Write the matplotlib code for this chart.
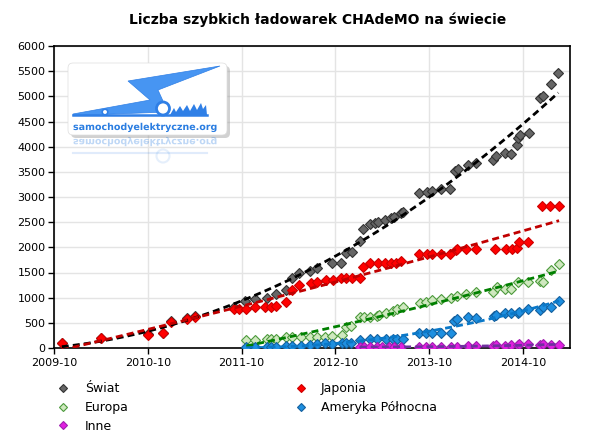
import numpy as np
import matplotlib
matplotlib.use("Agg")
import matplotlib.pyplot as plt
from matplotlib.lines import Line2D
from matplotlib.patches import FancyBboxPatch, Polygon, Circle, PathPatch
from matplotlib.textpath import TextPath
from matplotlib.font_manager import FontProperties
from matplotlib.transforms import Affine2D

# months since 2009-10
swiat_x = [1, 6, 12, 14, 15, 17, 18, 23, 24.4, 25.7, 27.2, 28.4, 29.7, 30.4, 31.4,
           32.7, 33.6, 35.6, 36.7, 37.4, 38.1, 39.1, 39.5, 40.4, 41.0, 41.4, 42.3,
           43.1, 43.5, 44.4, 44.6, 46.7, 47.7, 48.4, 49.5, 50.7, 51.3, 51.7, 52.9,
           54.0, 56.2, 56.5, 57.7, 58.5, 59.2, 59.4, 59.6, 60.7, 62.2, 62.6, 63.6, 64.5]
swiat_y = [93, 195, 280, 305, 535, 600, 640, 820, 940, 970, 1000, 1075, 1160, 1385, 1485,
           1535, 1580, 1680, 1680, 1895, 1915, 2130, 2360, 2465, 2490, 2510, 2545,
           2575, 2610, 2675, 2710, 3075, 3100, 3110, 3150, 3150, 3510, 3550, 3635,
           3680, 3740, 3815, 3870, 3855, 4030, 4165, 4230, 4280, 4960, 5005, 5240, 5460]

japonia_x = [1, 6, 12, 14, 15, 17, 18, 23, 23.7, 24.5, 25.7, 27, 27.8, 28.4, 29.7, 30.4,
             31.4, 32.9, 33.6, 34.8, 35.7, 36.7, 37.4, 38.1, 39.1, 39.5, 40.4, 41.4,
             42.3, 43.1, 43.8, 44.4, 46.7, 47.7, 48.4, 49.5, 50.7, 51.4, 51.6, 52.7,
             54.0, 56.4, 57.8, 58.6, 59.2, 59.5, 60.6, 62.4, 63.5, 64.6]
japonia_y = [93, 190, 260, 300, 520, 580, 620, 770, 780, 775, 815, 820, 820, 830, 920, 1150,
             1250, 1285, 1320, 1350, 1350, 1385, 1385, 1385, 1385, 1605, 1680, 1680,
             1680, 1680, 1695, 1735, 1870, 1870, 1870, 1870, 1870, 1950, 1960, 1960,
             1960, 1960, 1960, 1960, 1980, 2110, 2110, 2820, 2820, 2820]

europa_x = [24.6, 25.7, 27.2, 27.8, 28.4, 29.7, 30.4, 31.6, 32.7, 33.6, 34.6, 35.5, 36.9,
            37.4, 38.0, 39.1, 39.6, 40.4, 41.3, 41.6, 42.5, 43.3, 43.9, 44.6, 46.8, 47.6,
            48.4, 49.5, 50.8, 51.6, 52.7, 54.0, 56.2, 56.6, 57.7, 58.4, 59.3, 60.6, 62.2,
            62.6, 63.6, 64.6]
europa_y = [160, 150, 170, 175, 180, 210, 225, 225, 225, 225, 215, 240, 260,
            425, 435, 625, 610, 610, 635, 655, 690, 740, 770, 820, 885, 920,
            955, 965, 985, 1035, 1075, 1120, 1120, 1220, 1165, 1165, 1320, 1320, 1340,
            1320, 1550, 1670]

ameryka_x = [24.6, 25.7, 27.2, 27.8, 28.4, 29.7, 30.4, 31.6, 32.7, 33.6, 34.6, 35.5, 36.9,
             37.4, 38.0, 39.1, 40.4, 41.3, 42.5, 43.3, 43.9, 44.6, 46.7, 47.6, 48.4, 49.5,
             50.8, 51.2, 51.6, 52.9, 54.0, 56.3, 56.5, 57.7, 58.4, 59.3, 59.5, 60.6, 62.2,
             62.6, 63.6, 64.6]
ameryka_y = [15, 15, 15, 20, 20, 30, 40, 40, 60, 80, 93, 80, 93,
             93, 93, 160, 170, 170, 170, 170, 170, 170, 305, 305, 305, 305,
             290, 540, 570, 610, 590, 635, 655, 700, 690, 700, 720, 770, 755,
             810, 820, 940]

inne_x = [39.1, 39.6, 40.4, 41.3, 42.0, 42.8, 43.5, 44.4, 46.7, 47.6, 48.4, 49.5, 50.8,
          51.6, 52.9, 54.0, 56.2, 56.5, 57.7, 58.4, 59.3, 59.5, 60.6, 62.2, 62.6, 63.6, 64.6]
inne_y = [20, 20, 20, 20, 20, 20, 20, 20, 25, 25, 25, 25, 25,
          25, 30, 30, 40, 55, 40, 55, 55, 70, 70, 60, 70, 60, 60]

tick_pos = [0, 12, 24, 36, 48, 60]
tick_labels = ['2009-10', '2010-10', '2011-10', '2012-10', '2013-10', '2014-10']

series = [
    ('Świat', swiat_x, swiat_y, '#666666', '#333333', 'black'),
    ('Japonia', japonia_x, japonia_y, '#ff0000', '#cc0000', '#c00000'),
    ('Europa', europa_x, europa_y, '#cfe8bf', '#4c9a3c', '#008000'),
    ('Ameryka Północna', ameryka_x, ameryka_y, '#1e8fe0', '#14609e', '#0a78c8'),
    ('Inne', inne_x, inne_y, '#e020e0', '#a020b0', '#7030a0'),
]

fig = plt.figure(figsize=(6, 4.43), dpi=100)
ax = fig.add_axes([54/600, 1 - 348/443, 516/600, 302/443])

for name, x, y, fc, ec, lc in series:
    ax.plot(x, y, 'D', ms=5.5, mfc=fc, mec=ec, mew=0.8, ls='none', zorder=3)
for name, x, y, fc, ec, lc in series:
    c = np.polyfit(x, y, 2)
    xs = np.linspace(x[0], x[-1], 200)
    ax.plot(xs, np.polyval(c, xs), ls=(0, (2.5, 1.5)), color=lc, lw=2, zorder=4)

ax.set_xlim(0, 66)
ax.set_ylim(0, 6000)
ax.set_yticks(range(0, 6001, 500))
ax.set_xticks(tick_pos)
ax.set_xticklabels(tick_labels)
ax.tick_params(labelsize=8, length=4, width=1, color='black', direction='out', pad=2)
ax.tick_params(axis='x', pad=3)
ax.grid(True, color='#e4e4e4', lw=1)
ax.set_axisbelow(True)
for s in ax.spines.values():
    s.set_color('black')
    s.set_linewidth(1.2)

fig.text(0.53, 1 - 20/443, 'Liczba szybkich ładowarek CHAdeMO na świecie',
         ha='center', va='center', fontsize=10, fontweight='bold')

# legend
def handle(fc, ec):
    return Line2D([], [], marker='D', ms=4, mfc=fc, mec=ec, mew=0.8, ls='none')

h = {s[0]: handle(s[3], s[4]) for s in series}
leg1 = fig.legend([h['Świat'], h['Europa'], h['Inne']], ['Świat', 'Europa', 'Inne'],
                  loc='upper left', bbox_to_anchor=(49/600, 1 - 376/443), frameon=False,
                  fontsize=9, handlelength=1.2, handletextpad=1.2, labelspacing=0.45,
                  borderpad=0)
leg2 = fig.legend([h['Japonia'], h['Ameryka Północna']], ['Japonia', 'Ameryka Północna'],
                  loc='upper left', bbox_to_anchor=(287/600, 1 - 376/443), frameon=False,
                  fontsize=9, handlelength=1.2, handletextpad=1.0, labelspacing=0.45,
                  borderpad=0)

# logo (pixel coordinates)
lx0, lx1, ly0, ly1 = 62, 236, 58, 176
lg = fig.add_axes([lx0/600, 1 - ly1/443, (lx1 - lx0)/600, (ly1 - ly0)/443])
lg.set_xlim(lx0, lx1)
lg.set_ylim(ly1, ly0)
lg.axis('off')
lg.add_patch(FancyBboxPatch((71, 66), 159, 72, boxstyle='round,pad=0,rounding_size=5',
                            fc='#999999', ec='none', alpha=0.45))
lg.add_patch(FancyBboxPatch((68, 63), 159, 72, boxstyle='round,pad=0,rounding_size=5',
                            fc='white', ec='#dddddd', lw=0.5))
bolt = [(73, 114), (150, 100), (128, 81), (220, 66), (158, 90), (168, 112), (73, 115.5)]
lg.add_patch(Polygon(bolt, closed=True, fc='#4795f2', ec='#2f7fe6', lw=0.5))
lg.plot([73, 207], [114.5, 114.5], color='#2f7fe6', lw=1.8)
flame = [(170, 115), (174, 108), (176, 112), (180, 106), (183, 111), (187, 105), (190, 111),
         (194, 104), (197, 110), (201, 103), (203, 109), (206, 105), (207, 115)]
lg.add_patch(Polygon(flame, closed=True, fc='#2f7fe6', ec='none'))
lg.add_patch(Circle((163, 108.5), 6.5, fc='white', ec='#2f7fe6', lw=2))
lg.add_patch(Circle((105, 112), 2.8, fc='white', ec='#2f7fe6', lw=1.2))

tp = TextPath((0, 0), 'samochodyelektryczne.org', size=10,
              prop=FontProperties(family='DejaVu Sans', weight='bold'))
bb = tp.get_extents()
sc = 143 / bb.width
lg.add_patch(PathPatch(tp, transform=Affine2D().scale(sc, -sc).translate(73, 130) + lg.transData,
                       fc='#2a7de1', ec='none'))
lg.add_patch(PathPatch(tp, transform=Affine2D().scale(sc, sc).translate(73, 139) + lg.transData,
                       fc='#2a7de1', ec='none', alpha=0.3))
lg.plot([73, 207], [153, 153], color='#2f7fe6', lw=1.5, alpha=0.15)
lg.add_patch(Circle((163, 156), 6.5, fc='none', ec='#2f7fe6', lw=1.5, alpha=0.12))

fig.savefig('out.png', dpi=100)
